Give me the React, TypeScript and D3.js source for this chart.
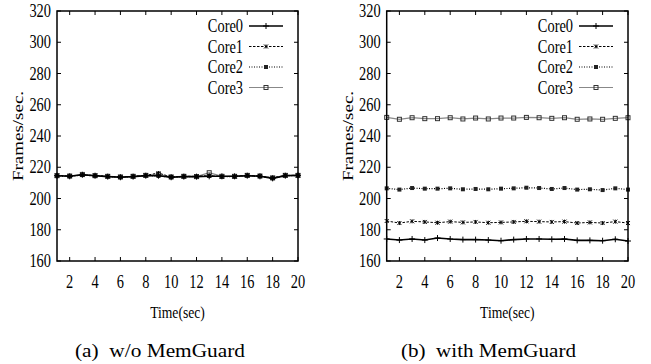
import React from "react";
import * as d3 from "d3";

const times: number[] = d3.range(1, 21);
const seriesNames = ["Core0", "Core1", "Core2", "Core3"];
const xTicks = [2, 4, 6, 8, 10, 12, 14, 16, 18, 20];
const yTicks = [160, 180, 200, 220, 240, 260, 280, 300, 320];

// (a) w/o MemGuard
const woCore0 = [214.6, 214.2, 215.2, 214.6, 214.0, 213.6, 214.0, 214.6, 214.6, 213.6, 214.0, 214.0, 214.2, 214.2, 214.2, 214.6, 214.2, 212.9, 214.6, 214.8];
const woCore1 = [214.8, 214.4, 215.0, 214.8, 214.2, 213.8, 214.2, 214.8, 216.3, 213.8, 214.2, 214.2, 214.6, 214.0, 214.2, 214.8, 214.4, 213.2, 214.8, 214.8];
const woCore2 = [214.4, 214.2, 215.0, 214.4, 214.0, 213.6, 214.0, 214.6, 214.4, 213.6, 214.0, 214.0, 214.4, 214.0, 214.0, 214.6, 214.2, 213.0, 214.6, 214.6];
const woCore3 = [214.6, 214.4, 215.4, 214.6, 214.2, 213.8, 214.2, 214.8, 215.4, 213.8, 214.2, 214.0, 216.5, 214.2, 214.2, 214.8, 214.4, 213.2, 214.8, 214.8];

// (b) with MemGuard
const wCore0 = [174.1, 173.4, 174.1, 173.4, 174.7, 174.1, 173.7, 173.7, 173.4, 173.0, 173.7, 174.1, 174.1, 173.9, 174.1, 173.2, 173.2, 173.0, 173.9, 172.8];
const wCore1 = [185.6, 184.3, 185.4, 185.0, 184.5, 185.2, 184.7, 185.0, 184.5, 184.7, 185.0, 185.4, 185.2, 185.0, 185.2, 184.3, 184.7, 184.3, 185.2, 184.3];
const wCore2 = [206.5, 205.7, 206.7, 206.3, 206.3, 206.5, 205.9, 206.1, 205.9, 206.3, 206.5, 206.9, 206.7, 206.1, 206.7, 205.7, 205.9, 205.4, 206.5, 205.7];
const wCore3 = [251.9, 250.7, 251.7, 251.1, 251.1, 251.7, 250.9, 251.5, 250.9, 251.5, 251.5, 251.9, 251.7, 251.3, 251.7, 250.7, 250.9, 250.7, 251.3, 251.7];

const FONT = "Liberation Serif";
const SX = 0.8;

type Style = { stroke: string; width: number; dash?: string; marker: string };
const styles: Style[] = [
  { stroke: "#000", width: 1.6, marker: "plus" },
  { stroke: "#000", width: 1, dash: "2.5,1.5", marker: "cross" },
  { stroke: "#000", width: 1.2, dash: "1,1.5", marker: "fsquare" },
  { stroke: "#888", width: 1.2, marker: "osquare" },
];

function Marker({ x, y, kind, color }: { x: number; y: number; kind: string; color: string }) {
  if (kind === "plus")
    return <path d={`M${x - 3},${y}H${x + 3}M${x},${y - 3}V${y + 3}`} stroke={color} strokeWidth={1} fill="none" />;
  if (kind === "cross")
    return <path d={`M${x - 2},${y - 2}L${x + 2},${y + 2}M${x - 2},${y + 2}L${x + 2},${y - 2}M${x},${y - 2}V${y + 2}`} stroke={color} strokeWidth={1} fill="none" />;
  if (kind === "fsquare")
    return <rect x={x - 2} y={y - 2} width={4} height={4} fill="#222" />;
  return <rect x={x - 2} y={y - 2} width={4} height={4} fill="none" stroke="#333" strokeWidth={1} />;
}

function CText(props: { x: number; y: number; anchor: string; size: number; children: React.ReactNode; sx?: number }) {
  const { x, y, anchor, size, children, sx = SX } = props;
  return (
    <text transform={`translate(${x},${y}) scale(${sx},1)`} textAnchor={anchor} fontFamily={FONT} fontSize={size} fill="#000">
      {children}
    </text>
  );
}

function Panel({ left, right, data, caption, capX, capW }: { left: number; right: number; data: number[][]; caption: string; capX: number; capW: number }) {
  const top = 11, bottom = 261;
  const x = d3.scaleLinear().domain([1, 20]).range([left, right]);
  const y = d3.scaleLinear().domain([160, 320]).range([bottom, top]);
  const line = d3.line<number>().x((_, i) => x(times[i])).y((d) => y(d));
  const tl = 4;
  const cx = (left + right) / 2;
  const order = [3, 2, 1, 0];
  return (
    <g>
      {xTicks.map((t) => (
        <g key={"xt" + t}>
          <line x1={x(t)} x2={x(t)} y1={bottom} y2={bottom - tl} stroke="#000" />
          <line x1={x(t)} x2={x(t)} y1={top} y2={top + tl} stroke="#000" />
          <CText x={x(t)} y={288} anchor="middle" size={18}>{t}</CText>
        </g>
      ))}
      {yTicks.map((t) => (
        <g key={"yt" + t}>
          <line x1={left} x2={left + tl} y1={y(t)} y2={y(t)} stroke="#000" />
          <line x1={right} x2={right - tl} y1={y(t)} y2={y(t)} stroke="#000" />
          <CText x={left - 6} y={y(t) + 6} anchor="end" size={18}>{t}</CText>
        </g>
      ))}
      {order.map((si) => {
        const vals = data[si];
        const st = styles[si];
        return (
          <g key={"s" + si}>
            <path d={line(vals) || ""} fill="none" stroke={st.stroke} strokeWidth={st.width} strokeDasharray={st.dash} />
            {vals.map((v, i) => (
              <Marker key={i} x={x(times[i])} y={y(v)} kind={st.marker} color={st.stroke} />
            ))}
          </g>
        );
      })}
      {seriesNames.map((n, i) => {
        const st = styles[i];
        const ly = 26 + i * 20.5;
        return (
          <g key={"lg" + n}>
            <CText x={right - 55} y={ly + 6} anchor="end" size={18}>{n}</CText>
            <line x1={right - 49} x2={right - 15} y1={ly} y2={ly} stroke={st.stroke} strokeWidth={st.width} strokeDasharray={st.dash} />
            <Marker x={right - 32} y={ly} kind={st.marker} color={st.stroke} />
          </g>
        );
      })}
      <rect x={left} y={top} width={right - left} height={bottom - top} fill="none" stroke="#000" strokeWidth={1.5} />
      <CText x={cx} y={318} anchor="middle" size={17}>Time(sec)</CText>
      <g transform={`translate(${left - 34},${(top + bottom) / 2}) scale(${SX},1) rotate(-90)`}>
        <text textAnchor="middle" fontFamily={FONT} fontSize={19} fill="#000">Frames/sec.</text>
      </g>
      <text x={capX} y={357} fontFamily={FONT} fontSize={19} textLength={capW} lengthAdjust="spacingAndGlyphs" fill="#000" style={{ whiteSpace: "pre" }}>
        {caption}
      </text>
    </g>
  );
}

export default function App() {
  return (
    <svg width={651} height={364} style={{ position: "absolute", left: 0, top: 0, background: "#fff" }}>
      <rect width={651} height={364} fill="#fff" />
      <Panel left={57} right={298} data={[woCore0, woCore1, woCore2, woCore3]} caption="(a)  w/o MemGuard" capX={75} capW={170} />
      <Panel left={386.7} right={628} data={[wCore0, wCore1, wCore2, wCore3]} caption="(b)  with MemGuard" capX={401} capW={175} />
    </svg>
  );
}
